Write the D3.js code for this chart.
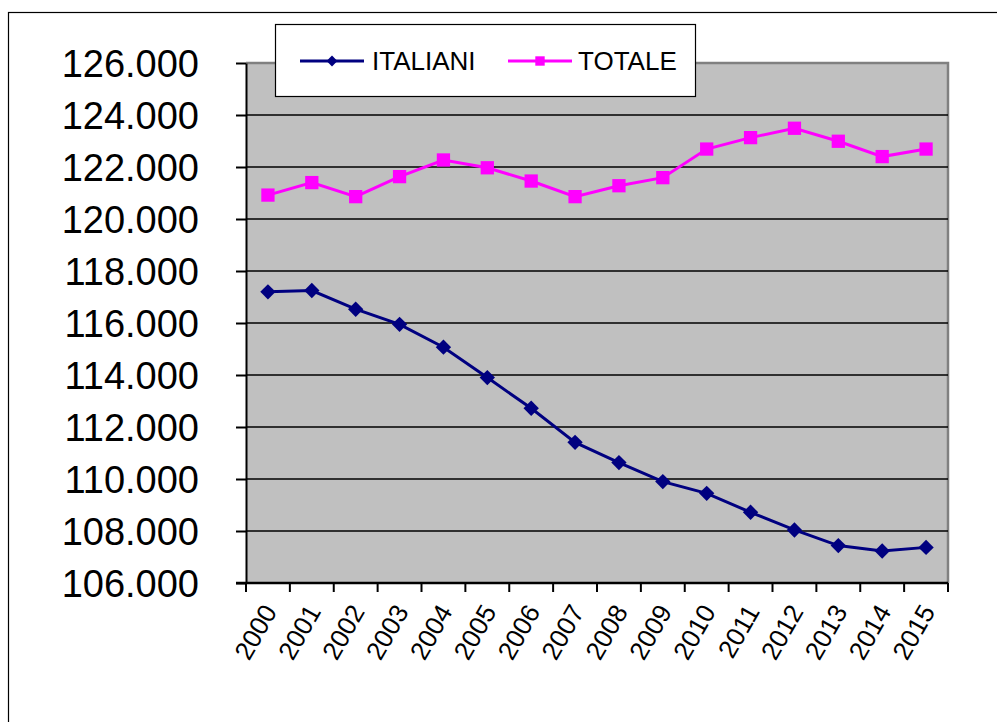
<!DOCTYPE html>
<html>
<head>
<meta charset="utf-8">
<script src="https://cdn.jsdelivr.net/npm/d3@7"></script>
<style>
    body { margin: 0; background: #fff; }
    text { font-family: "Liberation Sans", Arial, sans-serif; fill: #000; }
</style>
</head>
<body>
<div id="root"></div>
<script>
let years = ['2000', '2001', '2002', '2003', '2004', '2005', '2006', '2007',
    '2008', '2009', '2010', '2011', '2012', '2013', '2014', '2015'];

let italiani = [117200, 117250, 116530, 115950, 115070, 113900, 112720, 111410,
    110630, 109900, 109450, 108720, 108040, 107440, 107230, 107370];

let totale = [120920, 121400, 120860, 121630, 122270, 121970, 121460, 120860,
    121280, 121590, 122690, 123130, 123490, 122990, 122400, 122690];

let yTicks = [106000, 108000, 110000, 112000, 114000, 116000, 118000, 120000,
    122000, 124000, 126000];

let seriesNames = ['ITALIANI', 'TOTALE'];

let it = d3.formatLocale({decimal: ',', thousands: '.', grouping: [3], currency: ['', '€']});
let fmt = it.format(',d');

let plot = {left: 246, right: 948, top: 63, bottom: 583};

let x = d3.scaleBand()
    .domain(years)
    .range([plot.left, plot.right]);

let y = d3.scaleLinear()
    .domain([106000, 126000])
    .range([plot.bottom, plot.top]);

let series = [
    {name: seriesNames[0], values: italiani, color: '#000080', symbol: d3.symbolDiamond2, size: 150},
    {name: seriesNames[1], values: totale, color: '#ff00ff', symbol: d3.symbolSquare2, size: 225}
];

function render() {
    let svg = d3.select('#root').append('svg')
        .attr('width', 997)
        .attr('height', 722);

    // outer chart frame
    svg.append('rect')
        .attr('x', 8.5)
        .attr('y', 12.5)
        .attr('width', 1000)
        .attr('height', 720)
        .attr('fill', 'none')
        .attr('stroke', '#000')
        .attr('stroke-width', 1.2);

    // plot background
    svg.append('rect')
        .attr('x', plot.left)
        .attr('y', plot.top)
        .attr('width', plot.right - plot.left)
        .attr('height', plot.bottom - plot.top)
        .attr('fill', '#c0c0c0');

    svg.append('path')
        .attr('d', `M${plot.left},${plot.top}H${plot.right}V${plot.bottom}`)
        .attr('fill', 'none')
        .attr('stroke', '#808080')
        .attr('stroke-width', 2.5);

    // gridlines
    svg.append('g')
        .selectAll('line')
        .data(yTicks.slice(1, -1))
        .join('line')
        .attr('x1', plot.left)
        .attr('x2', plot.right)
        .attr('y1', d => y(d))
        .attr('y2', d => y(d))
        .attr('stroke', '#000')
        .attr('stroke-width', 1.5);

    // y axis
    let yAxis = svg.append('g')
        .attr('transform', `translate(${plot.left},0)`)
        .call(d3.axisLeft(y)
            .tickValues(yTicks)
            .tickFormat(fmt)
            .tickSize(10)
            .tickSizeOuter(0)
            .tickPadding(37));
    yAxis.select('.domain').attr('stroke', '#000').attr('stroke-width', 2);
    yAxis.selectAll('.tick line').attr('stroke', '#000').attr('stroke-width', 2);
    yAxis.selectAll('.tick text')
        .attr('font-size', 38)
        .attr('fill', '#000')
        .attr('dy', '0.36em');

    // x axis: ticks sit on band boundaries
    let bounds = years.map(d => x(d)).concat([plot.right]);
    let xAxis = svg.append('g');
    xAxis.append('line')
        .attr('x1', plot.left - 10)
        .attr('x2', plot.right)
        .attr('y1', plot.bottom)
        .attr('y2', plot.bottom)
        .attr('stroke', '#000')
        .attr('stroke-width', 2.5);
    xAxis.selectAll('line.tick')
        .data(bounds)
        .join('line')
        .attr('class', 'tick')
        .attr('x1', d => d)
        .attr('x2', d => d)
        .attr('y1', plot.bottom)
        .attr('y2', plot.bottom + 9)
        .attr('stroke', '#000')
        .attr('stroke-width', 2);
    xAxis.selectAll('text')
        .data(years)
        .join('text')
        .attr('transform', d => `translate(${x(d) + x.bandwidth() / 2 + 2},${plot.bottom + 24}) rotate(-60)`)
        .attr('text-anchor', 'end')
        .attr('dy', '0.35em')
        .attr('font-size', 26)
        .text(d => d);

    // series
    let line = d3.line()
        .x((d, i) => x(years[i]) + x.bandwidth() / 2)
        .y(d => y(d));

    series.forEach(s => {
        let g = svg.append('g');
        g.append('path')
            .attr('d', line(s.values))
            .attr('fill', 'none')
            .attr('stroke', s.color)
            .attr('stroke-width', 3);
        g.selectAll('path.mark')
            .data(s.values)
            .join('path')
            .attr('class', 'mark')
            .attr('transform', (d, i) => `translate(${x(years[i]) + x.bandwidth() / 2},${y(d)})`)
            .attr('d', d3.symbol(s.symbol, s.size))
            .attr('fill', s.color);
    });

    // legend
    let legend = svg.append('g');
    legend.append('rect')
        .attr('x', 275.5)
        .attr('y', 24.5)
        .attr('width', 420)
        .attr('height', 72)
        .attr('fill', '#fff')
        .attr('stroke', '#000')
        .attr('stroke-width', 1.2);
    let items = legend.selectAll('g')
        .data(series)
        .join('g')
        .attr('transform', (d, i) => `translate(${i ? 508 : 300},61)`);
    items.append('line')
        .attr('x1', 0)
        .attr('x2', 64)
        .attr('stroke', d => d.color)
        .attr('stroke-width', 3);
    items.append('path')
        .attr('transform', 'translate(32,0)')
        .attr('d', d => d3.symbol(d.symbol, d.size * 0.5)())
        .attr('fill', d => d.color);
    items.append('text')
        .attr('x', (d, i) => i ? 70 : 72)
        .attr('dy', '0.36em')
        .attr('font-size', 26)
        .text(d => d.name);
}

render();
</script>
</body>
</html>
